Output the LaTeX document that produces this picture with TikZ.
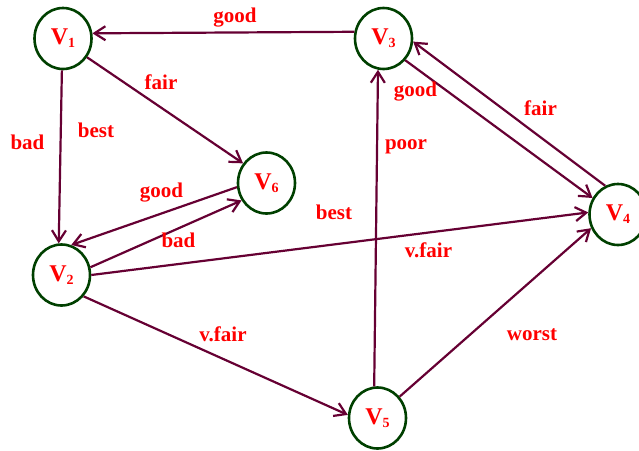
\documentclass[tikz,border=0pt]{standalone}
\usepackage{fontspec}
\setmainfont{Liberation Serif}
\usetikzlibrary{arrows.meta,shapes.geometric}
\definecolor{vgreen}{RGB}{0,64,0}
\definecolor{emaroon}{RGB}{102,0,51}
\definecolor{lred}{RGB}{255,0,0}
\newcommand{\vlab}[1]{V\raisebox{-3pt}{\fontsize{14}{14}\selectfont #1}}

\begin{document}
\begin{tikzpicture}[x=1pt,y=-1pt,
  vert/.style={ellipse, draw=vgreen, line width=2.6pt, minimum width=57pt,
    minimum height=61pt, inner sep=0pt, text=lred,
    font=\fontsize{24}{24}\selectfont\bfseries},
  conn/.style={emaroon, line width=2.2pt,
    -{Straight Barb[length=11pt,width=14pt]}},
  wlab/.style={text=lred, anchor=base, inner sep=0pt,
    font=\fontsize{21}{21}\selectfont\bfseries}]
  \useasboundingbox (0,0) rectangle (639,450);

  % Vertices
  \node[vert] (v1) at (63,38.5) {\vlab{1}};
  \node[vert] (v3) at (383.5,38.5) {\vlab{3}};
  \node[vert] (v6) at (266.5,183) {\vlab{6}};
  \node[vert] (v2) at (61.5,275) {\vlab{2}};
  \node[vert] (v4) at (618,214.5) {\vlab{4}};
  \node[vert] (v5) at (377.5,418) {\vlab{5}};

  % Directed edges
  \draw[conn] (v3.167) -- (v1.10);
  \draw[conn] (v1.-38) -- (v6.140);
  \draw[conn] (v1.-92) -- (v2.95);
  \draw[conn] (v6.188) -- (v2.72);
  \draw[conn] (v2.15) -- (v6.215);
  \draw[conn] (v2.0) -- (v4.176);
  \draw[conn] (v2.-44) -- (v5.174);
  \draw[conn] (v5.96) -- (v3.-100);
  \draw[conn] (v5.44) -- (v4.207);
  \draw[conn] (v3.-45) -- (v4.147);
  \draw[conn] (v4.114) -- (v3.-6);

  % Weights
  \node[wlab] (w31) at (235,22.7) {good};
  \node[wlab] (w16) at (161,89) {fair};
  \node[wlab] (w12a) at (27.5,149) {bad};
  \node[wlab] (w12b) at (96,137) {best};
  \node[wlab] (w62) at (161.5,197) {good};
  \node[wlab] (w26) at (178.5,247) {bad};
  \node[wlab] (w24a) at (334,219) {best};
  \node[wlab] (w24b) at (428.5,257) {v.fair};
  \node[wlab] (w25) at (223,341) {v.fair};
  \node[wlab] (w34) at (415.5,96) {good};
  \node[wlab] (w43) at (540.5,115) {fair};
  \node[wlab] (w53) at (406,149) {poor};
  \node[wlab] (w54) at (532,340) {worst};
\end{tikzpicture}
\end{document}
